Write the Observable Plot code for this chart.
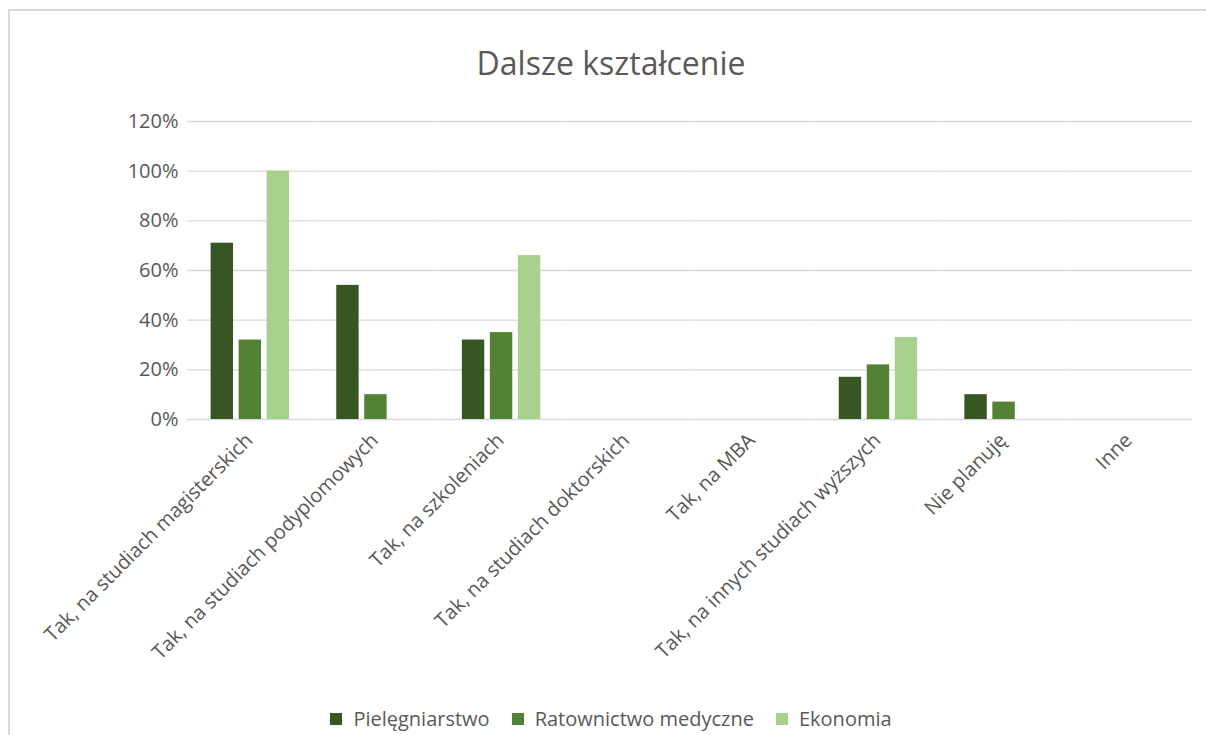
<!DOCTYPE html>
<html>
<head>
<meta charset="utf-8">
<script src="https://cdn.jsdelivr.net/npm/d3@7"></script>
<script src="https://cdn.jsdelivr.net/npm/@observablehq/plot@0.6"></script>
<style>
  html { overflow: hidden; }
  html, body { margin: 0; padding: 0; background: #fff; }
  body { width: 1206px; height: 735px; position: relative; overflow: hidden; font-family: "Open Sans", sans-serif; color: #595959; }
  #frame { position: absolute; left: 8px; top: 9px; width: 1198px; height: 740px; border: 2px solid #d9d9d9; border-right: none; box-sizing: border-box; }
  #title { position: absolute; left: 0; width: 1222px; top: 41px; text-align: center; font-size: 32px; line-height: normal; color: #595959; }
  #chart { position: absolute; left: 0; top: 0; }
  #legend { position: absolute; left: 0; width: 1222px; top: 705px; display: flex; justify-content: center; gap: 22px; font-size: 20px; line-height: normal; color: #595959; }
  .item { display: flex; align-items: center; gap: 11px; }
  .sw { width: 12px; height: 12px; display: inline-block; }
</style>
</head>
<body>
<div id="frame"></div>
<div id="title">Dalsze kształcenie</div>
<div id="chart"></div>
<div id="legend"></div>
<script>
const categories = [
  "Tak, na studiach magisterskich",
  "Tak, na studiach podyplomowych",
  "Tak, na szkoleniach",
  "Tak, na studiach doktorskich",
  "Tak, na MBA",
  "Tak, na innych studiach wyższych",
  "Nie planuję",
  "Inne"
];
const seriesNames = ["Pielęgniarstwo", "Ratownictwo medyczne", "Ekonomia"];
const pielegniarstwo = [0.71, 0.54, 0.32, 0, 0, 0.17, 0.10, 0];
const ratownictwo    = [0.32, 0.10, 0.35, 0, 0, 0.22, 0.07, 0];
const ekonomia       = [1.00, 0.00, 0.66, 0, 0, 0.33, 0.00, 0];
const yTicks = [0, 0.2, 0.4, 0.6, 0.8, 1.0, 1.2];
const colors = ["#375623", "#548235", "#A9D18E"];

const seriesValues = [pielegniarstwo, ratownictwo, ekonomia];
const rows = [];
seriesNames.forEach((s, si) => {
  categories.forEach((c, ci) => rows.push({category: c, series: s, value: seriesValues[si][ci]}));
});

const chart = Plot.plot({
  width: 1206,
  height: 735,
  marginLeft: 187,
  marginRight: 14,
  marginTop: 121,
  marginBottom: 316,
  style: {fontFamily: "'Open Sans', sans-serif", fontSize: "20px", color: "#595959", background: "transparent", overflow: "visible"},
  fx: {domain: categories, padding: 0, round: false, axis: null},
  x: {domain: seriesNames, paddingInner: 0.2, paddingOuter: 0.843, round: false, axis: null},
  y: {domain: [0, 1.2], axis: null},
  color: {domain: seriesNames, range: colors},
  marks: [
    Plot.gridY(yTicks, {stroke: "#d9d9d9", strokeOpacity: 1, strokeWidth: 1.3}),
    Plot.barY(rows, {fx: "category", x: "series", y: "value", fill: "series"}),
    Plot.axisY(yTicks, {tickSize: 0, tickPadding: 9, tickFormat: d3.format(".0%"), label: null, fontSize: 20}),
    Plot.text(categories, {fx: d => d, text: d => d, frameAnchor: "bottom", rotate: -45, textAnchor: "end", lineAnchor: "bottom", dx: 3.5, dy: 22, fontSize: 20, fill: "#595959"})
  ]
});
document.getElementById("chart").appendChild(chart);

const legend = document.getElementById("legend");
seriesNames.forEach((s, i) => {
  const item = document.createElement("div");
  item.className = "item";
  const sw = document.createElement("span");
  sw.className = "sw";
  sw.style.background = colors[i];
  const t = document.createElement("span");
  t.textContent = s;
  item.appendChild(sw);
  item.appendChild(t);
  legend.appendChild(item);
});
</script>
</body>
</html>
